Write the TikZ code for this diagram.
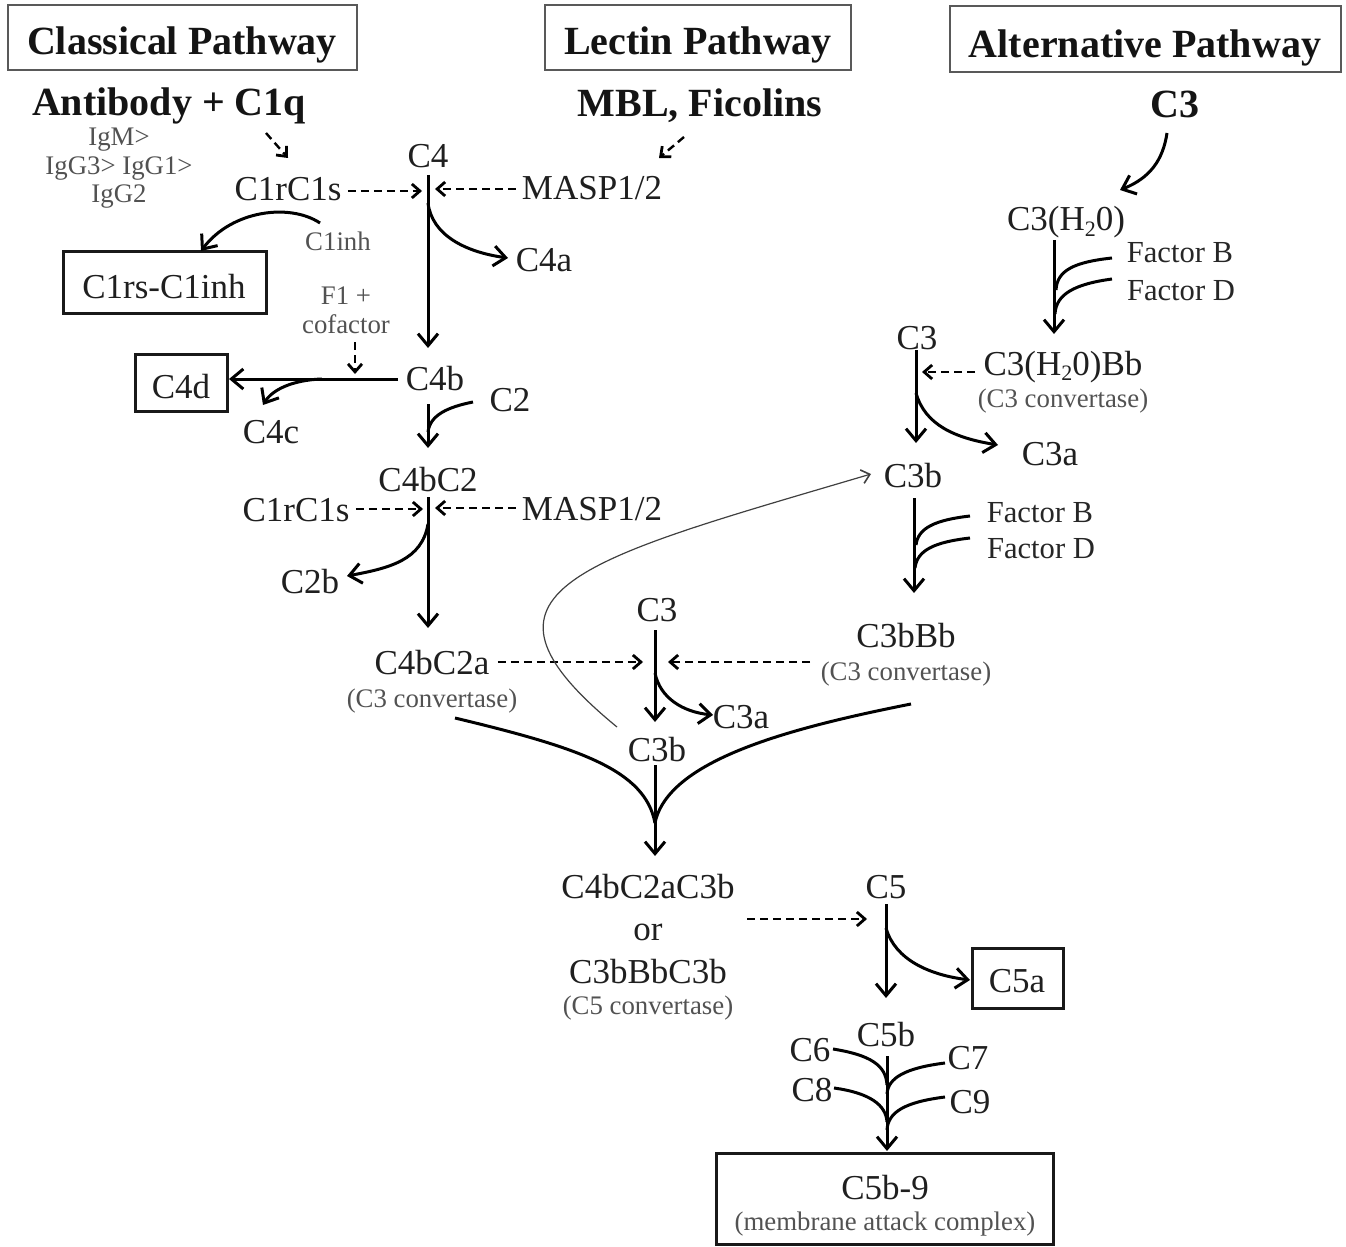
\documentclass[tikz,border=0pt]{standalone}
\usepackage{fontspec}
\setmainfont{Liberation Serif}
\usetikzlibrary{arrows.meta}
\newcommand{\subtwo}{\raisebox{-0.35ex}{\fontsize{11}{11}\selectfont 2}}
\begin{document}
\begin{tikzpicture}[x=0.5pt,y=-0.5pt,
 lbl/.style={font=\fontsize{17.5}{20}\selectfont, inner sep=0pt, anchor=base, text=black!88},
 sml/.style={font=\fontsize{13.4}{15}\selectfont, inner sep=0pt, anchor=base, text=black!68},
 fac/.style={font=\fontsize{15.3}{17}\selectfont, inner sep=0pt, anchor=base, text=black!85},
 ttl/.style={font=\bfseries\fontsize{20}{22}\selectfont, inner sep=0pt, anchor=base, text=black!92},
 hbox/.style={draw=black!65, line width=1pt},
 rbox/.style={draw=black!90, line width=1.5pt},
 ar/.style={line width=1.5pt, -{Straight Barb[length=6pt,width=10pt]}},
 ln/.style={line width=1.5pt},
 dar/.style={line width=1.2pt, dash pattern=on 4pt off 2.5pt, -{Straight Barb[length=4pt,width=7pt,line width=1.4pt]}},
 thin/.style={line width=0.6pt, draw=black!75, -{Straight Barb[length=4pt,width=7pt,line width=0.8pt]}}
]
\useasboundingbox (0,0) rectangle (1346,1247);
% ---------- title boxes ----------
\draw[hbox] (8,5) rectangle (357,70);
\draw[hbox] (545,5) rectangle (851,70);
\draw[hbox] (950,6) rectangle (1341,72);
\node[ttl] (tcl) at (182,55) {Classical Pathway};
\node[ttl] (tle) at (698,55) {Lectin Pathway};
\node[ttl] (tal) at (1145,58) {Alternative Pathway};
% ---------- initiators ----------
\node[ttl] (ab) at (169,116) {Antibody + C1q};
\node[ttl] (mbl) at (700,117) {MBL, Ficolins};
\node[ttl] (c3top) at (1175,118) {C3};
\node[sml] (igm) at (119,146) {IgM>};
\node[sml] (igg) at (119,175) {IgG3> IgG1>};
\node[sml] (igg2) at (119,203) {IgG2};
% ---------- classical / lectin column ----------
\node[lbl] (c4) at (428,168) {C4};
\node[lbl] (c1rc1s) at (288,201) {C1rC1s};
\node[lbl] (masp) at (592,200) {MASP1/2};
\node[lbl] (c4a) at (544,271) {C4a};
\node[sml] (c1inh) at (338,250) {C1inh};
\draw[rbox] (63,252) rectangle (266,313);
\node[lbl] (c1rsinh) at (164,299) {C1rs-C1inh};
\node[sml] (f1) at (346,305) {F1 +};
\node[sml] (cof) at (346,334) {cofactor};
\node[lbl] (c4b) at (435,390) {C4b};
\draw[rbox] (135,354) rectangle (227,411);
\node[lbl] (c4d) at (181,398) {C4d};
\node[lbl] (c4c) at (271,443) {C4c};
\node[lbl] (c2) at (510,411) {C2};
\node[lbl] (c4bc2) at (428,491) {C4bC2};
\node[lbl] (c1rc1sB) at (296,521) {C1rC1s};
\node[lbl] (maspB) at (592,520) {MASP1/2};
\node[lbl] (c2b) at (310,593) {C2b};
\node[lbl] (c4bc2a) at (432,674) {C4bC2a};
\node[sml] (conv1) at (432,707) {(C3 convertase)};
% ---------- central C3 ----------
\node[lbl] (c3m) at (657,621) {C3};
\node[lbl] (c3am) at (741,728) {C3a};
\node[lbl] (c3bm) at (657,761) {C3b};
\node[lbl] (c3bbb) at (906,647) {C3bBb};
\node[sml] (conv2) at (906,680) {(C3 convertase)};
% ---------- alternative column ----------
\node[lbl] (c3h2o) at (1066,231) {C3(H\subtwo0)};
\node[fac] (fb1) at (1180,263) {Factor B};
\node[fac] (fd1) at (1181,300) {Factor D};
\node[lbl] (c3r) at (917,350) {C3};
\node[lbl] (c3h2obb) at (1063,375) {C3(H\subtwo0)Bb};
\node[sml] (conv3) at (1063,408) {(C3 convertase)};
\node[lbl] (c3ar) at (1050,466) {C3a};
\node[lbl] (c3br) at (913,487) {C3b};
\node[fac] (fb2) at (1040,522) {Factor B};
\node[fac] (fd2) at (1041,558) {Factor D};
% ---------- terminal ----------
\node[lbl] (c5conv1) at (648,898) {C4bC2aC3b};
\node[lbl] (or) at (648,940) {or};
\node[lbl] (c5conv2) at (648,983) {C3bBbC3b};
\node[sml] (conv5) at (648,1014) {(C5 convertase)};
\node[lbl] (c5) at (886,898) {C5};
\draw[rbox] (972,948) rectangle (1063,1008);
\node[lbl] (c5a) at (1017,992) {C5a};
\node[lbl] (c5b) at (886,1046) {C5b};
\node[lbl] (c6) at (810,1061) {C6};
\node[lbl] (c7) at (968,1069) {C7};
\node[lbl] (c8) at (812,1101) {C8};
\node[lbl] (c9) at (970,1113) {C9};
\draw[rbox] (716,1153) rectangle (1053,1244);
\node[lbl] (mac) at (885,1199) {C5b-9};
\node[sml] (macs) at (885,1230) {(membrane attack complex)};
% ---------- coordinates ----------
\coordinate (abE) at (266,133);  \coordinate (abT) at (288,158);
\coordinate (mblE) at (684,137); \coordinate (mblT) at (659,158);
\coordinate (j1top) at (428,175); \coordinate (j1bot) at (428,348);
\coordinate (j1L) at (422,191); \coordinate (j1R) at (435,189);
\coordinate (j1c) at (428,203); \coordinate (c4aT) at (508,258);
\coordinate (c1inhS) at (320,223); \coordinate (c1inhT) at (201,251);
\coordinate (f1S) at (355,342); \coordinate (f1T) at (355,374);
\coordinate (c4bW) at (398,379); \coordinate (c4dE) at (229,379);
\coordinate (c4cS) at (322,379); \coordinate (c4cT) at (263,405);
\coordinate (j2top) at (428,404); \coordinate (j2bot) at (428,448);
\coordinate (c2S) at (473,402); \coordinate (c2J) at (428,432);
\coordinate (j3top) at (428,497); \coordinate (j3bot) at (428,628);
\coordinate (j3L) at (423,509); \coordinate (j3R) at (435,508);
\coordinate (j3c) at (428,524); \coordinate (c2bT) at (347,576);
\coordinate (j4top) at (655,630); \coordinate (j4bot) at (655,722);
\coordinate (j4L) at (643,662); \coordinate (j4R) at (668,662);
\coordinate (j4c) at (655,673); \coordinate (c3amT) at (713,715);
\coordinate (j5top) at (655,765); \coordinate (j5bot) at (655,856);
\coordinate (merge) at (655,823);
\coordinate (lcS) at (455,718); \coordinate (rcS) at (911,704);
\coordinate (loopS) at (617,727); \coordinate (loopT) at (871,474);
\coordinate (c3tS) at (1167,133); \coordinate (c3tT) at (1120,190);
\coordinate (j6top) at (1054,240); \coordinate (j6bot) at (1054,334);
\coordinate (fb1S) at (1112,258); \coordinate (fb1J) at (1056,290);
\coordinate (fd1S) at (1112,279); \coordinate (fd1J) at (1055,314);
\coordinate (j7top) at (916,350); \coordinate (j7bot) at (916,443);
\coordinate (j7R) at (922,372);
\coordinate (j7c) at (916,393); \coordinate (c3arT) at (998,445);
\coordinate (j8top) at (914,498); \coordinate (j8bot) at (914,593);
\coordinate (fb2S) at (970,516); \coordinate (fb2J) at (916,545);
\coordinate (fd2S) at (970,538); \coordinate (fd2J) at (915,568);
\coordinate (c5convE) at (747,919); \coordinate (j9L) at (867,919);
\coordinate (j9top) at (886,904); \coordinate (j9bot) at (886,998);
\coordinate (j9c) at (886,928); \coordinate (c5aW) at (970,980);
\coordinate (j10top) at (887,1056); \coordinate (j10bot) at (887,1151);
\coordinate (c6E) at (833,1049); \coordinate (c6J) at (887,1085);
\coordinate (c7W) at (945,1063); \coordinate (c7J) at (887,1094);
\coordinate (c8E) at (834,1088); \coordinate (c8J) at (887,1122);
\coordinate (c9W) at (945,1097); \coordinate (c9J) at (887,1130);
% ---------- connectors ----------
\draw[dar] (abE) -- (abT);
\draw[dar] (mblE) -- (mblT);
\draw[ar] (j1top) -- (j1bot);
\draw[dar] ([xshift=3pt]c1rc1s.east |- j1L) -- (j1L);
\draw[dar] ([xshift=-3pt]masp.west |- j1R) -- (j1R);
\draw[ar] (j1c) .. controls (432,235) and (465,252) .. (c4aT);
\draw[ar] (c1inhS) .. controls (290,203) and (232,210) .. (c1inhT);
\draw[dar] (f1S) -- (f1T);
\draw[ar] (c4bW) -- (c4dE);
\draw[ar] (c4cS) .. controls (292,380) and (272,390) .. (c4cT);
\draw[ar] (j2top) -- (j2bot);
\draw[ln] (c2S) .. controls (448,407) and (430,415) .. (c2J);
\draw[ar] (j3top) -- (j3bot);
\draw[dar] ([xshift=3pt]c1rc1sB.east |- j3L) -- (j3L);
\draw[dar] ([xshift=-3pt]maspB.west |- j3R) -- (j3R);
\draw[ar] (j3c) .. controls (422,560) and (390,568) .. (c2bT);
\draw[dar] ([xshift=4pt]c4bc2a.east |- j4L) -- (j4L);
\draw[dar] ([xshift=-23pt]c3bbb.west |- j4R) -- (j4R);
\draw[ar] (j4top) -- (j4bot);
\draw[ar] (j4c) .. controls (660,698) and (683,712) .. (c3amT);
\draw[ar] (j5top) -- (j5bot);
\draw[ln] (lcS) .. controls (580,748) and (645,770) .. (merge);
\draw[ln] (rcS) .. controls (790,728) and (668,760) .. (merge);
\draw[thin] (loopS) .. controls (450,590) and (580,560) .. (loopT);
% alternative
\draw[ar] (c3tS) .. controls (1163,160) and (1150,178) .. (c3tT);
\draw[ar] (j6top) -- (j6bot);
\draw[ln] (fb1S) .. controls (1075,262) and (1057,270) .. (fb1J);
\draw[ln] (fd1S) .. controls (1075,284) and (1056,294) .. (fd1J);
\draw[ar] (j7top) -- (j7bot);
\draw[dar] ([xshift=-4pt]c3h2obb.west |- j7R) -- (j7R);
\draw[ar] (j7c) .. controls (925,425) and (955,438) .. (c3arT);
\draw[ar] (j8top) -- (j8bot);
\draw[ln] (fb2S) .. controls (935,520) and (918,528) .. (fb2J);
\draw[ln] (fd2S) .. controls (935,542) and (917,550) .. (fd2J);
% terminal
\draw[dar] (c5convE) -- (j9L);
\draw[ar] (j9top) -- (j9bot);
\draw[ar] (j9c) .. controls (895,960) and (930,975) .. (c5aW);
\draw[ar] (j10top) -- (j10bot);
\draw[ln] (c6E) .. controls (870,1055) and (886,1065) .. (c6J);
\draw[ln] (c7W) .. controls (905,1068) and (888,1078) .. (c7J);
\draw[ln] (c8E) .. controls (870,1093) and (886,1105) .. (c8J);
\draw[ln] (c9W) .. controls (905,1102) and (888,1112) .. (c9J);
\end{tikzpicture}
\end{document}
